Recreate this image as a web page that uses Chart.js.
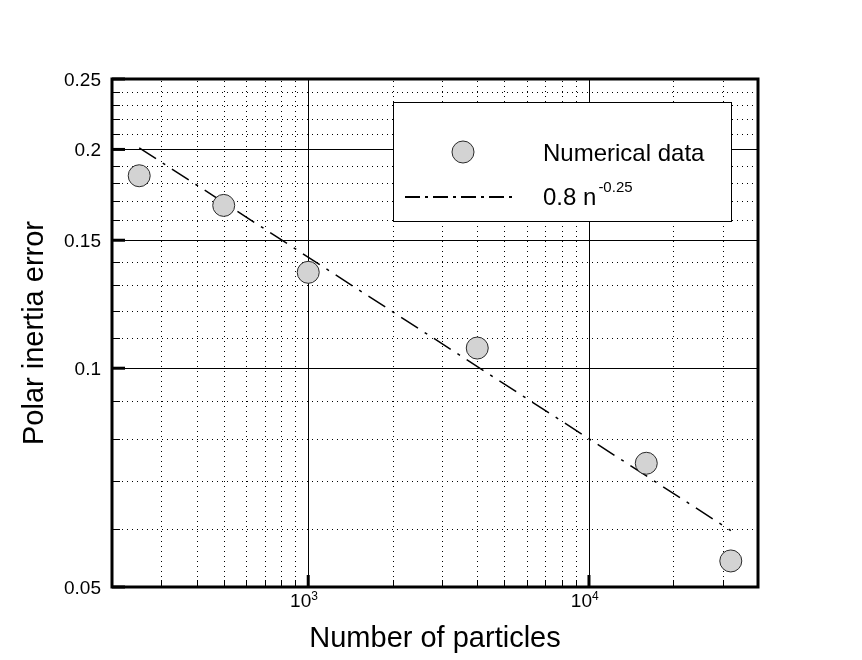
<!DOCTYPE html>
<html>
<head>
<meta charset="utf-8">
<script src="https://cdn.jsdelivr.net/npm/chart.js@4"></script>
<style>
  html, body { margin: 0; padding: 0; background: #fff; }
  #wrap { width: 862px; height: 660px; }
</style>
</head>
<body>
<div id="wrap"><canvas id="error_chart" width="862" height="660"></canvas></div>
<script>
// values
const particleCounts = [250, 500, 1000, 4000, 16000, 32000];
const inertiaErrors = [0.184, 0.1675, 0.1355, 0.1066, 0.074, 0.0543];

// end points of the 0.8 n^-0.25 reference line
const fitCounts = [250, 32000];
const fitErrors = [0.201, 0.0598];

const xRange = [200, 40000];
const yRange = [0.05, 0.25];

const xMajorTicks = [1000, 10000];
const xMajorExponents = ['3', '4'];
const xMinorTicks = [300, 400, 500, 600, 700, 800, 900,
    2000, 3000, 4000, 5000, 6000, 7000, 8000, 9000, 20000, 30000];

const yMajorTicks = [0.05, 0.1, 0.15, 0.2, 0.25];
const yTickLabels = ['0.05', '0.1', '0.15', '0.2', '0.25'];
const yMinorTicks = [0.06, 0.07, 0.08, 0.09, 0.11, 0.12, 0.13, 0.14,
    0.16, 0.17, 0.18, 0.19, 0.21, 0.22, 0.23, 0.24];

const FONT = "'Liberation Sans', Arial, sans-serif";
const DASH_DOT = [20, 8, 3, 8];
const MARKER_FILL = '#d3d3d3';
const MARKER_EDGE = '#2a2a2a';

function strokeLine(ctx, x1, y1, x2, y2) {
    ctx.beginPath();
    ctx.moveTo(x1, y1);
    ctx.lineTo(x2, y2);
    ctx.stroke();
}

const tecplotFrame = {
    id: 'tecplotFrame',
    beforeDatasetsDraw(chart) {
        const { ctx, chartArea: a, scales: { x, y } } = chart;
        ctx.save();
        ctx.strokeStyle = '#000';
        ctx.lineWidth = 1;

        // dotted minor grid
        ctx.setLineDash([1, 4]);
        xMinorTicks.forEach(v => {
            const px = Math.round(x.getPixelForValue(v)) + 0.5;
            strokeLine(ctx, px, a.bottom, px, a.top);
        });
        yMinorTicks.forEach(v => {
            const py = Math.round(y.getPixelForValue(v)) + 0.5;
            strokeLine(ctx, a.left, py, a.right, py);
        });

        // solid major grid
        ctx.setLineDash([]);
        xMajorTicks.forEach(v => {
            const px = Math.round(x.getPixelForValue(v)) + 0.5;
            strokeLine(ctx, px, a.bottom, px, a.top);
        });
        yMajorTicks.slice(1, -1).forEach(v => {
            const py = Math.round(y.getPixelForValue(v)) + 0.5;
            strokeLine(ctx, a.left, py, a.right, py);
        });
        ctx.restore();
    },
    afterDatasetsDraw(chart) {
        const { ctx, chartArea: a, scales: { x, y } } = chart;
        ctx.save();
        ctx.strokeStyle = '#000';
        ctx.fillStyle = '#000';

        // frame
        ctx.lineWidth = 3;
        ctx.strokeRect(a.left, a.top, a.right - a.left, a.bottom - a.top);

        // inward tick marks on left and bottom axes
        ctx.lineWidth = 1;
        yMinorTicks.forEach(v => {
            const py = Math.round(y.getPixelForValue(v)) + 0.5;
            strokeLine(ctx, a.left, py, a.left + 8, py);
        });
        xMinorTicks.forEach(v => {
            const px = Math.round(x.getPixelForValue(v)) + 0.5;
            strokeLine(ctx, px, a.bottom, px, a.bottom - 7);
        });
        ctx.lineWidth = 3;
        yMajorTicks.forEach(v => {
            const py = y.getPixelForValue(v);
            strokeLine(ctx, a.left, py, a.left + 13, py);
        });
        xMajorTicks.forEach(v => {
            const px = x.getPixelForValue(v);
            strokeLine(ctx, px, a.bottom, px, a.bottom - 12);
        });

        // tick labels
        ctx.font = '19px ' + FONT;
        ctx.textAlign = 'right';
        ctx.textBaseline = 'alphabetic';
        yMajorTicks.forEach((v, i) => {
            ctx.fillText(yTickLabels[i], a.left - 11, y.getPixelForValue(v) + 7);
        });
        xMajorTicks.forEach((v, i) => {
            const px = x.getPixelForValue(v);
            ctx.font = '19px ' + FONT;
            ctx.textAlign = 'right';
            ctx.fillText('10', px + 3, a.bottom + 20);
            ctx.font = '12px ' + FONT;
            ctx.textAlign = 'left';
            ctx.fillText(xMajorExponents[i], px + 3, a.bottom + 13);
        });

        // axis titles
        ctx.font = '29px ' + FONT;
        ctx.textAlign = 'center';
        ctx.fillText('Number of particles', (a.left + a.right) / 2, 647);
        ctx.save();
        ctx.translate(43, (a.top + a.bottom) / 2);
        ctx.rotate(-Math.PI / 2);
        ctx.fillText('Polar inertia error', 0, 0);
        ctx.restore();

        // legend box
        const box = { left: 393.5, top: 102.5, width: 338, height: 119 };
        ctx.fillStyle = '#fff';
        ctx.fillRect(box.left, box.top, box.width, box.height);
        ctx.lineWidth = 1;
        ctx.strokeRect(box.left, box.top, box.width, box.height);

        ctx.beginPath();
        ctx.arc(463, 152, 11, 0, Math.PI * 2);
        ctx.fillStyle = MARKER_FILL;
        ctx.fill();
        ctx.strokeStyle = MARKER_EDGE;
        ctx.stroke();

        ctx.strokeStyle = '#000';
        ctx.lineWidth = 2;
        ctx.setLineDash([15, 5, 3, 5]);
        strokeLine(ctx, 405, 197, 517, 197);
        ctx.setLineDash([]);

        ctx.fillStyle = '#000';
        ctx.textAlign = 'left';
        ctx.font = '24px ' + FONT;
        ctx.fillText('Numerical data', 543, 161);
        ctx.fillText('0.8 n', 543, 205);
        const w = ctx.measureText('0.8 n').width;
        ctx.font = '15px ' + FONT;
        ctx.fillText('-0.25', 543 + w + 2, 192);

        ctx.restore();
    }
};

const ctx = document.getElementById('error_chart').getContext('2d');

window.errorChart = new Chart(ctx, {
    type: 'scatter',
    data: {
        datasets: [
            {
                label: 'Numerical data',
                data: particleCounts.map((n, i) => ({ x: n, y: inertiaErrors[i] })),
                pointRadius: 11,
                pointHoverRadius: 11,
                pointBackgroundColor: MARKER_FILL,
                pointBorderColor: MARKER_EDGE,
                pointBorderWidth: 1,
                showLine: false,
                order: 1
            },
            {
                label: '0.8 n^-0.25',
                type: 'line',
                data: fitCounts.map((n, i) => ({ x: n, y: fitErrors[i] })),
                borderColor: '#000',
                borderWidth: 1.5,
                borderDash: DASH_DOT,
                pointRadius: 0,
                fill: false,
                order: 2
            }
        ]
    },
    options: {
        responsive: false,
        animation: false,
        devicePixelRatio: 1,
        layout: {
            padding: { left: 112, top: 79, right: 104, bottom: 73 }
        },
        plugins: {
            legend: { display: false },
            tooltip: { enabled: false }
        },
        scales: {
            x: {
                type: 'logarithmic',
                min: xRange[0],
                max: xRange[1],
                display: false
            },
            y: {
                type: 'logarithmic',
                min: yRange[0],
                max: yRange[1],
                display: false
            }
        }
    },
    plugins: [tecplotFrame]
});
</script>
</body>
</html>
